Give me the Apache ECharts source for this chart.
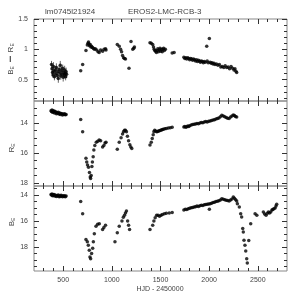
<!DOCTYPE html>
<html><head><meta charset="utf-8">
<script src="https://cdn.jsdelivr.net/npm/echarts@6/dist/echarts.min.js"></script>
<style>html,body{margin:0;padding:0;background:#fff}#c{width:304px;height:304px}</style>
</head><body><div id="c"></div>
<script>
// ---- data (HJD-2450000, value) ----
const errT = [380,385,390,395,400,405,410,418,425,430,438,445,450,458,465,470,475,482,488,495,500,505,510,515,520,525,530,535];
const errV = [0.75,0.68,0.62,0.58,0.72,0.64,0.55,0.66,0.60,0.70,0.57,0.63,0.52,0.67,0.61,0.74,0.56,0.65,0.59,0.69,0.54,0.62,0.58,0.66,0.60,0.55,0.63,0.59];
const errE = [0.06,0.07,0.06,0.05,0.07,0.06,0.06,0.07,0.06,0.07,0.06,0.06,0.07,0.06,0.06,0.07,0.06,0.07,0.06,0.06,0.07,0.06,0.06,0.07,0.06,0.06,0.07,0.06];

const colT = [680,700,734,748,755,760,765,770,778,785,792,800,810,820,830,845,858,870,885,905,920,935,940,
  1056,1076,1090,1100,1110,1120,1130,1140,1176,1197,1215,1225,1232,
  1392,1405,1420,1428,1435,1442,1450,1458,1465,1472,1480,1488,1495,1502,1510,1518,1525,1532,1540,1550,1620,1640,
  1740,1750,1760,1770,1780,1790,1800,1810,1820,1830,1840,1850,1860,1870,1880,1890,1900,1910,1920,1930,1940,1950,1960,1975,1980,1990,2002,2010,2020,2030,2040,2050,2060,2075,2090,2105,2120,2135,2150,2165,2180,2195,2210,2225,2240,2255,2265,2275,2283];
const colV = [0.65,0.75,0.98,1.07,1.10,1.12,1.09,1.06,1.08,1.04,1.05,1.03,1.02,1.00,1.01,0.99,0.96,0.95,0.99,0.97,1.00,1.01,0.99,
  1.08,1.05,1.00,0.96,0.90,0.86,0.85,0.84,0.69,1.13,1.00,1.02,1.04,
  1.11,1.10,1.08,1.04,1.00,0.98,0.97,0.95,0.98,1.01,0.96,0.99,1.02,0.97,1.00,0.96,1.00,1.02,0.98,1.00,0.94,0.95,
  0.87,0.85,0.86,0.84,0.86,0.85,0.83,0.85,0.84,0.82,0.84,0.83,0.81,0.83,0.80,0.82,0.81,0.79,0.81,0.80,0.78,0.80,0.79,1.05,0.81,0.78,1.18,0.79,0.77,0.78,0.76,0.77,0.75,0.76,0.74,0.75,0.71,0.72,0.70,0.73,0.70,0.71,0.68,0.72,0.69,0.66,0.68,0.64,0.62];

const rT = [375,380,385,390,395,400,405,410,418,425,430,438,445,450,458,465,470,478,485,492,500,508,515,522,530,
  680,700,734,742,750,760,770,778,782,788,795,800,808,815,825,840,855,870,885,905,918,930,940,
  1056,1076,1095,1110,1120,1130,1140,1150,1160,1172,1185,1195,1205,
  1392,1405,1415,1425,1432,1440,1450,1460,1470,1480,1490,1500,1510,1520,1530,1545,1560,1580,1600,1620,
  1740,1750,1760,1770,1780,1790,1800,1815,1830,1845,1860,1875,1890,1905,1920,1935,1950,1965,1980,1995,2010,2025,2040,2055,2070,2085,2100,2115,2130,2145,2160,2175,2190,2205,2220,2235,2248,2260,2270,2283];
const rV = [13.20,13.25,13.15,13.30,13.20,13.28,13.22,13.35,13.25,13.30,13.40,13.32,13.38,13.30,13.42,13.35,13.45,13.38,13.40,13.48,13.42,13.45,13.40,13.47,13.44,
  13.78,14.60,16.35,16.60,16.80,16.95,17.30,17.60,17.70,17.50,16.90,16.60,16.25,15.80,15.50,15.30,15.22,15.15,15.20,15.60,15.50,15.35,15.30,
  15.75,15.30,15.00,14.75,14.60,14.50,14.50,14.60,14.90,15.20,15.45,15.60,15.70,
  15.47,15.30,15.05,14.80,14.60,14.50,14.55,14.60,14.58,14.55,14.52,14.50,14.47,14.45,14.42,14.40,14.38,14.35,14.32,14.30,
  14.28,14.25,14.30,14.26,14.22,14.24,14.20,14.15,14.12,14.10,14.08,14.05,14.06,14.02,13.98,14.00,13.95,13.92,13.94,13.90,13.88,13.85,13.82,13.80,13.75,13.72,13.68,13.60,13.50,13.55,13.60,13.65,13.70,13.72,13.62,13.55,13.48,13.52,13.58,13.62];

const bT = [375,380,385,390,395,400,405,410,418,425,430,438,445,450,458,465,470,478,485,492,500,508,515,522,530,
  680,700,734,748,758,768,775,782,792,803,810,820,837,854,871,905,918,935,
  1032,1056,1076,1104,1118,1130,1140,1150,1162,1172,1182,
  1392,1420,1432,1445,1460,1475,1490,1505,1520,1540,1560,1590,1620,
  1740,1755,1770,1785,1800,1815,1830,1845,1860,1875,1890,1905,1920,1935,1950,1965,1980,1995,2002,2010,2025,2040,2055,2070,2085,2100,2115,2130,2145,2160,2175,2190,2205,2220,2235,2248,2260,2272,2283,
  2290,2310,2324,2334,2345,2351,2358,2368,2376,2386,2392,2407,2427,2472,2490,
  2557,2570,2585,2597,2609,2620,2633,2645,2654,2665,2678,2687,2694];
const bV = [13.95,14.00,13.92,14.05,13.98,14.02,13.95,14.08,14.00,14.05,14.10,14.03,14.08,14.00,14.12,14.05,14.10,14.02,14.08,14.12,14.06,14.10,14.05,14.12,14.08,
  14.50,15.43,17.43,17.60,17.87,18.25,18.77,18.90,18.50,18.10,17.60,16.97,16.40,16.25,16.20,16.66,16.50,16.33,
  17.60,16.90,16.40,16.00,15.70,15.56,15.38,15.23,16.00,16.33,16.66,
  16.66,16.33,16.00,15.74,15.56,15.56,15.64,15.56,15.49,15.43,15.40,15.38,15.35,
  15.15,15.10,15.12,15.05,15.02,14.98,14.95,14.92,14.90,14.85,14.88,14.82,14.78,14.80,14.74,14.72,14.70,14.68,15.10,14.66,14.62,14.58,14.55,14.50,14.48,14.44,14.38,14.28,14.32,14.35,14.40,14.42,14.45,14.38,14.30,14.15,14.25,14.35,14.45,
  14.66,14.92,15.43,15.69,16.58,16.85,17.48,17.87,18.30,18.90,19.23,17.50,16.20,15.43,15.56,
  15.30,15.45,15.56,15.40,15.30,15.38,15.30,15.15,15.12,15.05,15.00,14.85,14.70];

const xMajor = [500,1000,1500,2000,2500];
const xMinor = [300,400,600,700,800,900,1100,1200,1300,1400,1600,1700,1800,1900,2100,2200,2300,2400,2600,2700];
const y1Major = [0.5,1,1.5];
const y1Minor = [0.2,0.3,0.4,0.6,0.7,0.8,0.9,1.1,1.2,1.3,1.4];
const magMajor = [14,16,18];
const magMinor2 = [13,13.5,14.5,15,15.5,16.5,17,17.5];
const magMinor3 = [13.5,14.5,15,15.5,16.5,17,17.5,18.5,19,19.5];

// ---- layout ----
const L = 34, R = 17;
const grids = [
  {left:L, right:R, top:19, height:82, show:true, borderColor:'#888', borderWidth:1},
  {left:L, right:R, top:101, height:85, show:true, borderColor:'#888', borderWidth:1},
  {left:L, right:R, top:186, height:85, show:true, borderColor:'#888', borderWidth:1}
];
const yRanges = [
  {min:0.15, max:1.5, inverse:false, major:y1Major, minor:y1Minor},
  {min:12.55, max:18.2, inverse:true, major:magMajor, minor:magMinor2},
  {min:13.3, max:19.85, inverse:true, major:magMajor, minor:magMinor3}
];
const font = {fontFamily:'Liberation Sans', fontSize:7, color:'#444'};
const xAxes = [], yAxes = [];
grids.forEach((g,i)=>{
  ['bottom','top'].forEach(pos=>{
    [[xMajor,5],[xMinor,3]].forEach(([vals,len],k)=>{
      xAxes.push({gridIndex:i, type:'value', min:200, max:2800, position:pos,
        axisLine:{show:false}, splitLine:{show:false},
        axisTick:{show:true, inside:true, length:len, customValues:vals, lineStyle:{color:'#333', width:1}},
        axisLabel:{show: i===2 && pos==='bottom' && k===0, customValues:xMajor, margin:6, formatter:v=>String(v), ...font}
      });
    });
  });
  const yr = yRanges[i];
  ['left','right'].forEach(pos=>{
    [[yr.major,5],[yr.minor,3]].forEach(([vals,len],k)=>{
      yAxes.push({gridIndex:i, type:'value', min:yr.min, max:yr.max, inverse:yr.inverse, position:pos,
        axisLine:{show:false}, splitLine:{show:false},
        axisTick:{show:true, inside:true, length:len, customValues:vals, lineStyle:{color:'#333', width:1}},
        axisLabel:{show: pos==='left' && k===0, customValues:yr.major, margin:6, formatter:v=>String(v), ...font}
      });
    });
  });
});
const zip = (a,b)=>a.map((t,j)=>[t,b[j]]);
const dot = {symbol:'circle', symbolSize:3.5, itemStyle:{color:'#000'}, silent:true, animation:false};
const sub = {a:{fontFamily:'Liberation Sans', fontSize:8, fill:'#444'}, s:{fontFamily:'Liberation Sans', fontSize:5, fill:'#444', padding:[4,0,0,0]}};
const option = {
  animation:false,
  grid: grids,
  xAxis: xAxes,
  yAxis: yAxes,
  series: [
    {type:'custom', xAxisIndex:0, yAxisIndex:0, silent:true,
     data: errT.map((t,j)=>[t, errV[j]-errE[j], errV[j]+errE[j]]),
     renderItem:(params, api)=>{
       const p1 = api.coord([api.value(0), api.value(1)]);
       const p2 = api.coord([api.value(0), api.value(2)]);
       return {type:'line', shape:{x1:p1[0], y1:p1[1], x2:p2[0], y2:p2[1]}, style:{stroke:'#666', lineWidth:1}};
     }},
    {type:'scatter', xAxisIndex:0, yAxisIndex:0, data: zip(errT, errV), ...dot},
    {type:'scatter', xAxisIndex:0, yAxisIndex:0, data: zip(colT, colV), ...dot},
    {type:'scatter', xAxisIndex:4, yAxisIndex:4, data: zip(rT, rV), ...dot},
    {type:'scatter', xAxisIndex:8, yAxisIndex:8, data: zip(bT, bV), ...dot}
  ],
  graphic: [
    {type:'text', left:45, top:8, style:{text:'lm0745l21924', fontFamily:'Liberation Sans', fontSize:8, fill:'#444'}},
    {type:'text', left:128, top:8, style:{text:'EROS2-LMC-RCB-3', fontFamily:'Liberation Sans', fontSize:8, fill:'#444'}},
    {type:'text', x:160, y:289, style:{text:'HJD - 2450000', fontFamily:'Liberation Sans', fontSize:7, fill:'#444', align:'center', verticalAlign:'middle'}},
    {type:'text', x:11, y:59, rotation:Math.PI/2, style:{text:'{a|B}{s|E} − {a|R}{s|E}', align:'center', verticalAlign:'middle', rich:sub}},
    {type:'text', x:12, y:148, rotation:Math.PI/2, style:{text:'{a|R}{s|E}', align:'center', verticalAlign:'middle', rich:sub}},
    {type:'text', x:12, y:222, rotation:Math.PI/2, style:{text:'{a|B}{s|E}', align:'center', verticalAlign:'middle', rich:sub}}
  ]
};
echarts.init(document.getElementById('c'), null, {renderer:'canvas'}).setOption(option);
</script>
</body></html>
